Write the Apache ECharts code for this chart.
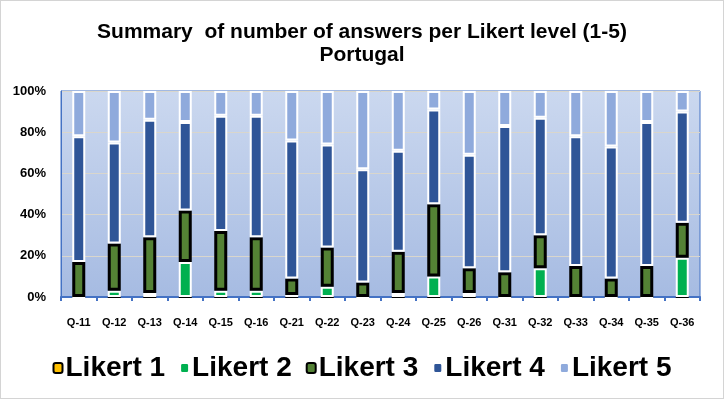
<!DOCTYPE html>
<html>
<head>
<meta charset="utf-8">
<script src="https://cdn.jsdelivr.net/npm/echarts@6/dist/echarts.min.js"></script>
<style>
    html, body { margin: 0; padding: 0; background: #fff; }
    #likertChart { width: 722px; height: 397px; border: 1px solid #d4d4d4; }
</style>
</head>
<body>
<div id="likertChart"></div>
<script>
// questions on the x axis
var questions = ['Q-11','Q-12','Q-13','Q-14','Q-15','Q-16','Q-21','Q-22','Q-23',
                 'Q-24','Q-25','Q-26','Q-31','Q-32','Q-33','Q-34','Q-35','Q-36'];

// share of answers per Likert level (%)
var likert1 = [0, 0, 0, 0, 0, 0, 0, 0, 0, 0, 0, 0, 0, 0, 0, 0, 0, 0];
var likert2 = [0, 3, 2, 17, 3, 3, 1, 5, 0, 2, 10, 2, 0, 14, 0, 0, 0, 19];
var likert3 = [17, 23, 27, 25, 29, 26, 8, 19, 7, 20, 35, 12, 12, 16, 15, 9, 15, 17];
var likert4 = [61, 49, 57, 43, 56, 59, 67, 50, 55, 49, 46, 55, 71, 57, 63, 64, 70, 54];
var likert5 = [22, 25, 14, 15, 12, 12, 24, 26, 38, 29, 9, 31, 17, 13, 22, 27, 15, 10];

var yTicks = ['0%', '20%', '40%', '60%', '80%', '100%'];

var fontMain = '"Liberation Sans", Arial, sans-serif';

var chart = echarts.init(document.getElementById('likertChart'));

function makeSeries(name, data, color, borderColor, borderWidth) {
    return {
        name: name,
        type: 'bar',
        stack: 'likert',
        barWidth: 13,
        itemStyle: {
            color: color,
            borderColor: borderColor,
            borderWidth: borderWidth
        },
        data: data
    };
}

var option = {
    animation: false,
    title: {
        text: 'Summary  of number of answers per Likert level (1-5)\nPortugal',
        left: 'center',
        top: 15,
        textStyle: {
            fontFamily: fontMain,
            fontWeight: 'bold',
            fontSize: 21,
            lineHeight: 23,
            color: '#000'
        }
    },
    legend: {
        bottom: 11,
        left: 'center',
        itemWidth: 9,
        itemHeight: 10,
        itemGap: 14,
        textStyle: {
            fontFamily: fontMain,
            fontWeight: 'bold',
            fontSize: 28,
            color: '#000',
            padding: [0, 0, 0, -2]
        },
        data: ['Likert 1', 'Likert 2', 'Likert 3', 'Likert 4', 'Likert 5']
    },
    grid: {
        left: 60,
        right: 23,
        top: 90,
        bottom: 101,
        show: true,
        borderColor: '#4472c4',
        borderWidth: 1,
        backgroundColor: new echarts.graphic.LinearGradient(0, 0, 0, 1, [
            {offset: 0, color: '#cbd8ef'},
            {offset: 1, color: '#a6bbe2'}
        ])
    },
    xAxis: {
        type: 'category',
        data: questions,
        axisLine: { lineStyle: { color: '#4472c4', width: 2 } },
        axisTick: { show: true, length: 4, lineStyle: { color: '#4472c4', width: 2 } },
        axisLabel: {
            interval: 0,
            margin: 20,
            fontFamily: fontMain,
            fontWeight: 'bold',
            fontSize: 11,
            color: '#000'
        }
    },
    yAxis: {
        type: 'value',
        min: 0,
        max: 100,
        interval: 20,
        axisLine: { show: true, lineStyle: { color: '#4472c4', width: 1 } },
        splitLine: { lineStyle: { color: '#d9d6cc', width: 1 } },
        axisLabel: {
            margin: 15,
            fontFamily: fontMain,
            fontWeight: 'bold',
            fontSize: 13,
            color: '#000',
            formatter: function (v) { return yTicks[v / 20]; }
        }
    },
    series: [
        makeSeries('Likert 1', likert1, '#ffc000', '#000', 2),
        makeSeries('Likert 2', likert2, '#00b050', '#fff', 2),
        makeSeries('Likert 3', likert3, '#548235', '#000', 3),
        makeSeries('Likert 4', likert4, '#2f5597', '#fff', 2),
        makeSeries('Likert 5', likert5, '#8faadc', '#fff', 2)
    ]
};

chart.setOption(option);
</script>
</body>
</html>
